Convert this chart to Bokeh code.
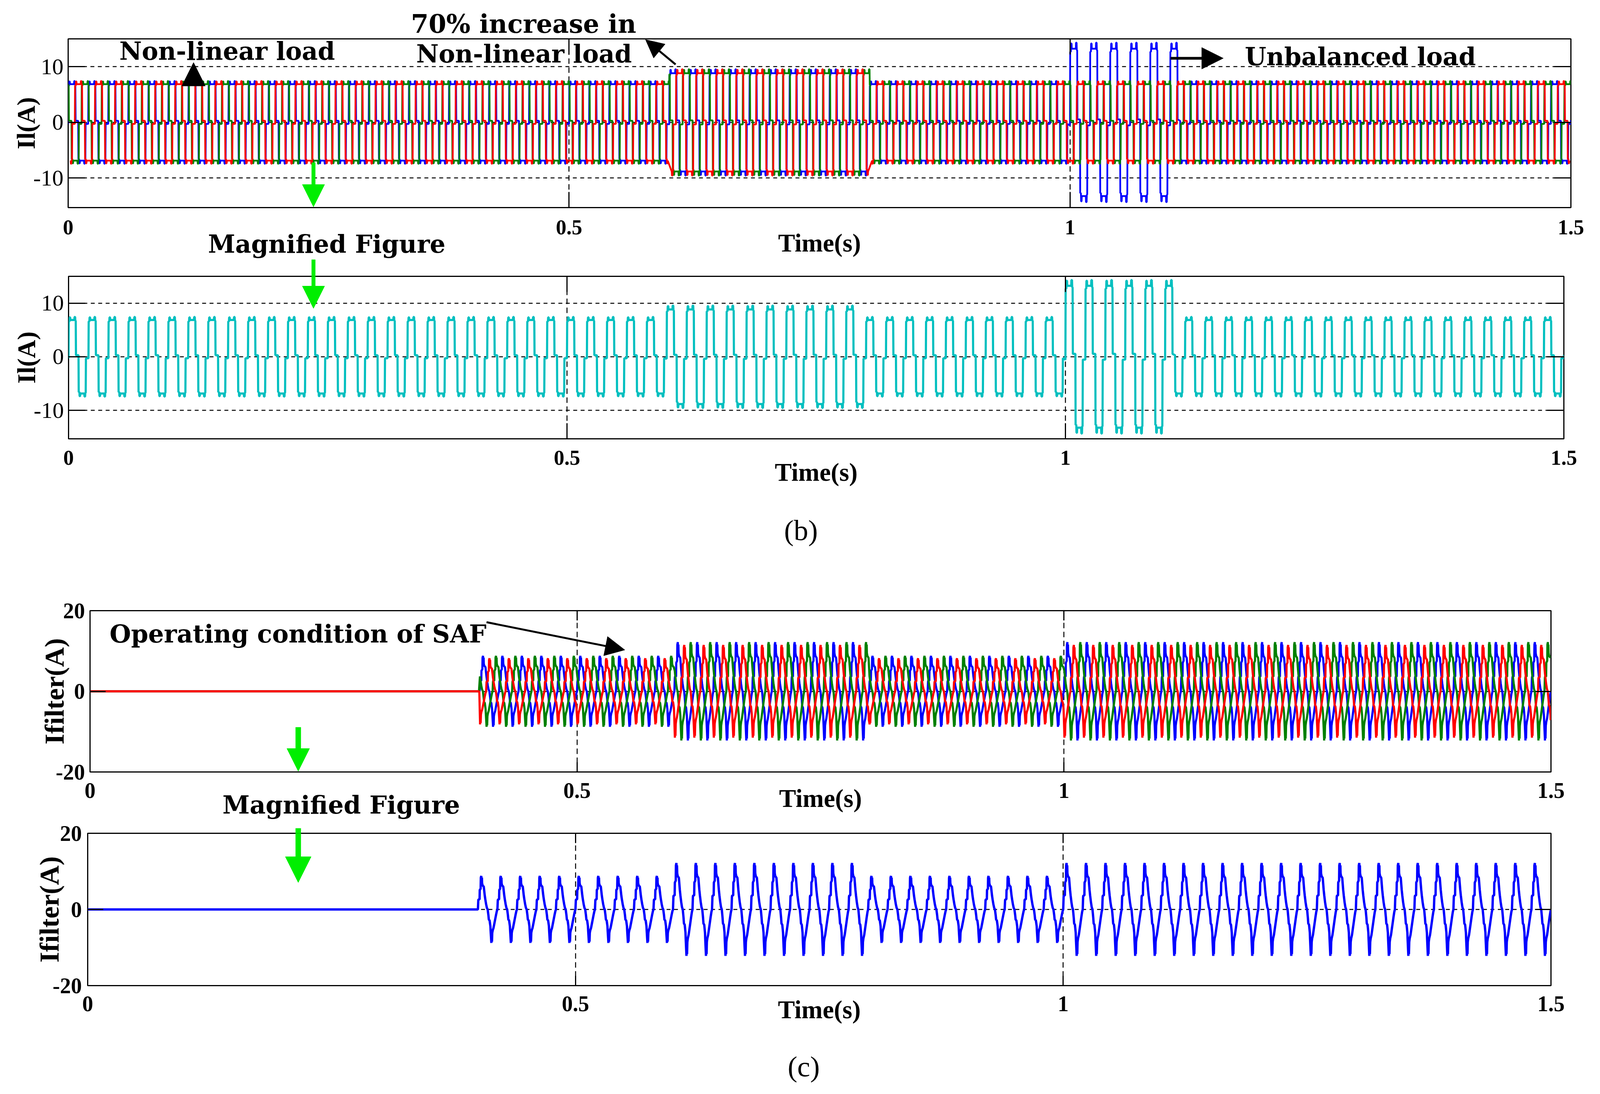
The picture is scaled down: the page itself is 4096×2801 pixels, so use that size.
import numpy as np
from bokeh.plotting import figure
from bokeh.models import Range1d, FixedTicker, LinearAxis, Label, Arrow, NormalHead, TeeHead
from bokeh.layouts import column
from bokeh.embed import file_html
from bokeh.resources import INLINE

# ---------------- values ----------------
PERIOD = 0.02          # s, 50 Hz supply
T_END = 1.5
X_TICKS = [0, 0.5, 1, 1.5]
X_GRID = [0.5, 1]
IL_TICKS = [-10, 0, 10]
IF_TICKS = [-20, 0, 20]
IF_GRID = [0]

# load current, one half cycle (fraction of period from rising edge, per-unit of plateau)
LOAD_HALF_PHASE = [0.000, 0.010, 0.045, 0.055, 0.080, 0.090, 0.290, 0.300, 0.330, 0.340, 0.360, 0.372, 0.500]
LOAD_HALF_SHAPE = [0.05, 0.94, 0.94, 1.05, 1.05, 0.98, 0.98, 1.06, 1.06, 0.96, 0.96, 0.04, 0.04]
# plateau level of each phase by time segment
LOAD_SEG_START = [0.0, 0.6, 0.8, 1.0, 1.109]
LOAD_AMP_BLUE = [7.0, 9.0, 7.0, 13.5, 7.0]
LOAD_AMP_RED = [7.0, 9.0, 7.0, 7.0, 7.0]
LOAD_AMP_GREEN = [7.0, 9.0, 7.0, 7.0, 7.0]

# filter current, one cycle (fraction of period from rising zero crossing, per-unit of peak)
FILT_PHASE = [0.000, 0.020, 0.030, 0.085, 0.095, 0.140, 0.150, 0.175, 0.185, 0.205, 0.215, 0.240,
              0.300, 0.350, 0.380, 0.420, 0.460, 0.500, 0.540, 0.560, 0.600, 0.640, 0.650, 0.690,
              0.700, 0.720, 0.735, 0.760, 0.800, 0.850, 0.890, 0.930, 0.970, 1.000]
FILT_SHAPE = [0.00, 0.27, 0.30, 0.30, 0.58, 0.62, 0.95, 1.00, 0.72, 0.95, 0.78, 0.72,
              0.68, 0.42, 0.30, 0.16, 0.05, 0.00, -0.18, -0.30, -0.33, -0.50, -0.62, -1.00,
              -0.72, -0.96, -0.70, -0.62, -0.55, -0.40, -0.28, -0.16, -0.05, 0.00]
FILT_SEG_START = [0.0, 0.4, 0.6, 0.8, 1.0]
FILT_AMP_BLUE = [0.0, 8.8, 12.2, 8.8, 12.2]
FILT_AMP_GREEN = [0.0, 8.8, 12.2, 8.8, 12.2]
FILT_AMP_RED = [0.0, 8.2, 11.5, 8.2, 11.5]

SHIFT_BLUE, SHIFT_RED, SHIFT_GREEN = 0.0, 1.0 / 3.0, 2.0 / 3.0

LOAD_PHASE = LOAD_HALF_PHASE + [ph + 0.5 for ph in LOAD_HALF_PHASE]
LOAD_SHAPE = LOAD_HALF_SHAPE + [-s for s in LOAD_HALF_SHAPE]


def wave(phase, shape, shift, seg_start, amps):
    ph = np.asarray(phase)
    sh = np.asarray(shape)
    k = np.arange(-1, int(T_END / PERIOD) + 2)
    t = ((k[:, None] + ph[None, :] + shift) * PERIOD).ravel()
    v = np.tile(sh, len(k))
    m = (t >= 0) & (t <= T_END)
    t, v = t[m], v[m]
    idx = np.searchsorted(np.asarray(seg_start), t, side="right") - 1
    return t, v * np.asarray(amps)[idx]


# ---------------- layout helpers ----------------
W = 4096
SERIF = "Liberation Serif"
WIDE = "DejaVu Serif"
GREEN = "#00EE00"


class Geo:
    def __init__(self, top, height, L, R, T, B, yr):
        self.top, self.height = top, height
        self.L, self.R, self.T, self.B = L, R, T, B
        self.y0, self.y1 = yr

    def data(self, X, Y):
        x = (X - self.L) / (self.R - self.L) * T_END
        y = self.y1 - (Y - self.T) / (self.B - self.T) * (self.y1 - self.y0)
        return x, y


def bare_axis(ticks, **kw):
    ax = LinearAxis(ticker=FixedTicker(ticks=ticks), major_label_overrides={t: "" for t in ticks},
                    major_label_text_font_size="0px", major_label_standoff=0,
                    major_tick_in=0, major_tick_out=0, major_tick_line_width=3,
                    major_tick_line_color=None, minor_tick_line_color=None, axis_line_color=None)
    for k, v in kw.items():
        setattr(ax, k, v)
    return ax


def make_fig(g, yticks, ytick_style, ytick_size, xtick_size, xtick_len, ytick_len, hgrid,
             xstand, ystand, ylabel, ylabel_size, ylabel_stand):
    p = figure(width=W, height=g.height, x_range=Range1d(0, T_END), y_range=Range1d(g.y0, g.y1),
               output_backend="svg", toolbar_location=None,
               min_border_left=g.L, min_border_right=W - g.R,
               min_border_top=g.T - g.top, min_border_bottom=g.top + g.height - g.B)
    if "frame_align" in p.properties():
        p.frame_align = False
    p.background_fill_color = "white"
    p.border_fill_color = "white"
    p.outline_line_color = "black"
    p.outline_line_width = 3
    p.xaxis.ticker = FixedTicker(ticks=X_TICKS)
    p.yaxis.ticker = FixedTicker(ticks=yticks)
    p.yaxis.major_label_overrides = {t: str(t) for t in yticks}
    for ax in (p.xaxis[0], p.yaxis[0]):
        ax.axis_line_color = None
        ax.major_tick_out = 0
        ax.major_tick_line_width = 3
        ax.major_tick_line_color = "black"
        ax.minor_tick_line_color = None
        ax.major_label_text_font = SERIF
        ax.major_label_text_color = "black"
    p.xaxis.major_tick_in = xtick_len
    p.yaxis.major_tick_in = ytick_len
    p.xaxis.major_label_text_font_style = "bold"
    p.xaxis.major_label_text_font_size = f"{xtick_size}px"
    p.xaxis.major_label_standoff = xstand
    p.yaxis.major_label_text_font_style = ytick_style
    p.yaxis.major_label_text_font_size = f"{ytick_size}px"
    p.yaxis.major_label_standoff = ystand
    p.yaxis.axis_label = ylabel
    p.yaxis.axis_label_text_font = SERIF
    p.yaxis.axis_label_text_font_style = "bold"
    p.yaxis.axis_label_text_font_size = f"{ylabel_size}px"
    p.yaxis.axis_label_text_color = "black"
    p.yaxis.axis_label_standoff = ylabel_stand
    p.add_layout(bare_axis(yticks, major_tick_in=ytick_len, major_tick_line_color="black"), "right")
    p.add_layout(bare_axis(X_TICKS, major_tick_in=xtick_len, major_tick_line_color="black"), "above")
    p.xgrid.ticker = FixedTicker(ticks=X_GRID)
    p.ygrid.ticker = FixedTicker(ticks=hgrid)
    p.xgrid.grid_line_dash = "14 9"
    p.ygrid.grid_line_dash = "10 9"
    for gr in (p.xgrid[0], p.ygrid[0]):
        gr.grid_line_color = "black"
        gr.grid_line_width = 2.5
    return p


def axis_title(p, side, s, size, standoff):
    ax = bare_axis([])
    ax.axis_label = s
    ax.axis_label_text_font = SERIF
    ax.axis_label_text_font_style = "bold"
    ax.axis_label_text_font_size = f"{size}px"
    ax.axis_label_text_color = "black"
    ax.axis_label_standoff = standoff
    p.add_layout(ax, side)


def axis_text(p, g, side, X, s, font, size, style, standoff):
    x = round(g.data(X, g.T)[0], 4)
    ax = LinearAxis(ticker=FixedTicker(ticks=[x]), major_label_overrides={x: s},
                    major_label_text_font=font, major_label_text_font_size=f"{size}px",
                    major_label_text_font_style=style, major_label_text_color="black",
                    major_label_standoff=standoff, major_tick_in=0, major_tick_out=0,
                    major_tick_line_color=None, minor_tick_line_color=None, axis_line_color=None)
    p.add_layout(ax, side)


def outside_bar(p, g, side, X, length, color, lw):
    # the part of a green arrow shaft that lies outside the frame, drawn as an outward tick
    x = round(g.data(X, g.T)[0], 4)
    p.add_layout(bare_axis([x], major_tick_out=length, major_tick_line_color=color,
                           major_tick_line_width=lw), side)


def text(p, g, X, Y, s, size, font=WIDE, style="bold", align="center"):
    x, y = g.data(X, Y)
    p.add_layout(Label(x=x, y=y, text=s, text_font=font, text_font_size=f"{size}px",
                       text_font_style=style, text_align=align, text_baseline="middle",
                       text_color="black"))


def body(p, g, X0, Y0, X1, Y1, color, lw):
    xs, ys = g.data(X0, Y0)
    xe, ye = g.data(X1, Y1)
    p.add_layout(Arrow(x_start=xs, y_start=ys, x_end=xe, y_end=ye, line_color=color,
                       line_width=lw, end=None))


def head(p, g, X0, Y0, X1, Y1, color, size):
    d = ((X1 - X0) ** 2 + (Y1 - Y0) ** 2) ** 0.5
    xs, ys = g.data(X1 - 2 * (X1 - X0) / d, Y1 - 2 * (Y1 - Y0) / d)
    xe, ye = g.data(X1, Y1)
    p.add_layout(Arrow(x_start=xs, y_start=ys, x_end=xe, y_end=ye, line_alpha=0, line_width=1,
                       end=NormalHead(size=size, fill_color=color, line_color=color, line_width=1)))


def bar(p, g, X, Y0, Y1, color, lw):
    xs, ym = g.data(X - 3, 0.5 * (Y0 + Y1))
    xe, _ = g.data(X, 0.5 * (Y0 + Y1))
    p.add_layout(Arrow(x_start=xs, y_start=ym, x_end=xe, y_end=ym, line_alpha=0, line_width=1,
                       end=TeeHead(size=abs(Y1 - Y0), line_color=color, line_width=lw)))


# ---------------- panel 1: three-phase load current ----------------
g1 = Geo(0, 664, 174, 4021, 99, 534, (-15.3, 15))
p1 = make_fig(g1, IL_TICKS, "normal", 58, 54, 40, 43, IL_TICKS, 32, 12, "Il(A)", 65, -21)
for amps, sh, col in ((LOAD_AMP_BLUE, SHIFT_BLUE, "blue"), (LOAD_AMP_GREEN, SHIFT_GREEN, "green"),
                      (LOAD_AMP_RED, SHIFT_RED, "red")):
    t, v = wave(LOAD_PHASE, LOAD_SHAPE, sh, LOAD_SEG_START, amps)
    p1.line(t, v, line_color=col, line_width=4.5)
axis_text(p1, g1, "above", 1340, "70% increase in", WIDE, 65, "bold", 1)
axis_title(p1, "below", "Time(s)", 65, -17)
axis_text(p1, g1, "below", 836, "Magnified Figure", WIDE, 63, "bold", -73)
text(p1, g1, 581, 131, "Non-linear load", 63)
head(p1, g1, 495, 220, 495, 160, "black", 60)
text(p1, g1, 1341, 138, "Non-linear load", 63)
body(p1, g1, 1729, 165, 1656, 104, "black", 5)
head(p1, g1, 1729, 165, 1652, 101, "black", 46)
text(p1, g1, 3482, 145, "Unbalanced load", 63)
body(p1, g1, 2996, 149, 3120, 149, "black", 7)
head(p1, g1, 2996, 149, 3131, 149, "black", 55)
bar(p1, g1, 802, 418, 478, GREEN, 10)
head(p1, g1, 802, 418, 802, 532, GREEN, 57)

# ---------------- panel 2: one phase of load current ----------------
g2 = Geo(664, 786, 175, 4003, 707, 1123, (-15.3, 15))
p2 = make_fig(g2, IL_TICKS, "normal", 58, 54, 40, 43, IL_TICKS, 30, 12, "Il(A)", 65, -21)
t, v = wave(LOAD_PHASE, LOAD_SHAPE, SHIFT_BLUE, LOAD_SEG_START, LOAD_AMP_BLUE)
p2.line(t, v, line_color="#00BFBF", line_width=5.5)
axis_title(p2, "below", "Time(s)", 65, -20)
axis_text(p2, g2, "below", 2050, "(b)", SERIF, 74, "normal", 69)
outside_bar(p2, g2, "above", 802, 43, GREEN, 10)
bar(p2, g2, 802, 706, 735, GREEN, 10)
head(p2, g2, 802, 700, 802, 789, GREEN, 57)

# ---------------- panel 3: three-phase filter current ----------------
g3 = Geo(1450, 650, 230, 3970, 1563, 1982, (-20, 20))
p3 = make_fig(g3, IF_TICKS, "bold", 56, 56, 25, 40, IF_GRID, 28, 13, "Ifilter(A)", 70, -38)
for amps, sh, col in ((FILT_AMP_BLUE, SHIFT_BLUE, "blue"), (FILT_AMP_GREEN, SHIFT_GREEN, "green"),
                      (FILT_AMP_RED, SHIFT_RED, "red")):
    t, v = wave(FILT_PHASE, FILT_SHAPE, sh, FILT_SEG_START, amps)
    p3.line(t, v, line_color=col, line_width=5.5)
axis_title(p3, "below", "Time(s)", 65, -38)
axis_text(p3, g3, "below", 873, "Magnified Figure", WIDE, 63, "bold", -59)
text(p3, g3, 280, 1623, "Operating condition of SAF", 63, align="left")
body(p3, g3, 1245, 1593, 1580, 1661, "black", 5)
head(p3, g3, 1245, 1593, 1599, 1665, "black", 50)
bar(p3, g3, 763, 1866, 1926, GREEN, 14)
head(p3, g3, 763, 1866, 763, 1980, GREEN, 58)

# ---------------- panel 4: one phase of filter current ----------------
g4 = Geo(2100, 701, 224, 3970, 2133, 2523, (-20, 20))
p4 = make_fig(g4, IF_TICKS, "bold", 56, 56, 25, 40, IF_GRID, 27, 15, "Ifilter(A)", 70, -33)
t, v = wave(FILT_PHASE, FILT_SHAPE, SHIFT_BLUE, FILT_SEG_START, FILT_AMP_BLUE)
p4.line(t, v, line_color="blue", line_width=6)
axis_title(p4, "below", "Time(s)", 65, -43)
axis_text(p4, g4, "below", 2057, "(c)", SERIF, 74, "normal", 66)
outside_bar(p4, g4, "above", 763, 13, GREEN, 14)
bar(p4, g4, 763, 2132, 2195, GREEN, 14)
head(p4, g4, 763, 2120, 763, 2259, GREEN, 66)

layout = column(p1, p2, p3, p4, spacing=0)
open("out.html", "w").write(file_html(layout, INLINE))
